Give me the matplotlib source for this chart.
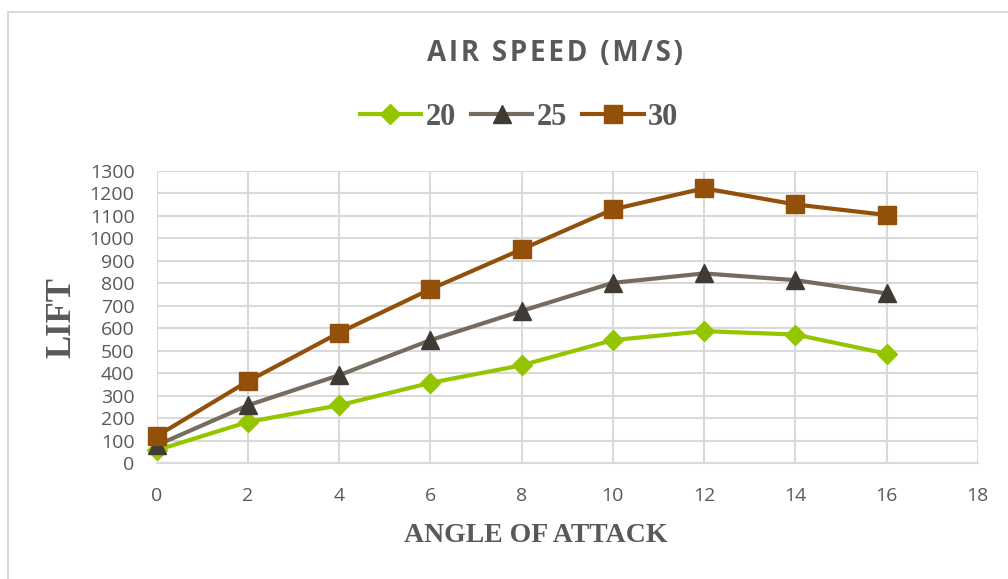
import matplotlib.pyplot as plt
from matplotlib.patches import Rectangle

# angle of attack (deg)
angle = [0, 2, 4, 6, 8, 10, 12, 14, 16]

# lift at each air speed
lift_20 = [57, 183, 257, 357, 435, 547, 587, 572, 487]
lift_25 = [79, 257, 391, 547, 677, 802, 844, 814, 755]
lift_30 = [120, 364, 580, 774, 951, 1129, 1223, 1151, 1104]

speed_labels = ['20', '25', '30']

fig = plt.figure(figsize=(10.08, 5.79), dpi=100)
ax = fig.add_axes([0.1555, 0.2003, 0.8145, 0.5044])

# chart border (only left and top edges are visible in the frame)
fig.patches.append(Rectangle((8 / 1008, -0.1), 1.2, 1 - 12 / 579 + 0.1,
                             transform=fig.transFigure, fill=False,
                             edgecolor='#d9d9d9', linewidth=1.5))

ax.plot(angle, lift_20, color='#94c600', linewidth=3, marker='D',
        markersize=10, markerfacecolor='#94c600', markeredgecolor='#94c600',
        label=speed_labels[0])
ax.plot(angle, lift_25, color='#756b5f', linewidth=3, marker='^',
        markersize=13, markerfacecolor='#3f3a33', markeredgecolor='#3f3a33',
        label=speed_labels[1])
ax.plot(angle, lift_30, color='#93500a', linewidth=3, marker='s',
        markersize=13, markerfacecolor='#93500a', markeredgecolor='#93500a',
        label=speed_labels[2])

ax.set_xlim(0, 18)
ax.set_ylim(0, 1300)
ax.set_xticks(range(0, 19, 2))
ax.set_yticks(range(0, 1301, 100))
ax.grid(True, color='#d9d9d9', linewidth=1.5)
ax.set_axisbelow(True)
for side in ['left', 'right', 'top']:
    ax.spines[side].set_visible(False)
ax.spines['bottom'].set_color('#d9d9d9')
ax.spines['bottom'].set_linewidth(1.5)
ax.tick_params(length=0, colors='#595959', labelsize=14)
ax.tick_params(axis='y', pad=16)
ax.tick_params(axis='x', pad=17)
for lbl in ax.get_xticklabels() + ax.get_yticklabels():
    lbl.set_family(['Open Sans', 'DejaVu Sans'])
for line in ax.get_lines():
    line.set_clip_on(False)

ax.set_xlabel('ANGLE OF ATTACK', family='Liberation Serif', fontweight='bold',
              fontsize=20, color='#595959', va='center')
ax.xaxis.set_label_coords(0.462, -0.247)
ax.set_ylabel('LIFT', family='Liberation Serif', fontweight='bold',
              fontsize=25, color='#595959', va='center')
ax.yaxis.set_label_coords(-0.116, 0.497)

fig.text(0.551, 0.908, '\u200a'.join('AIR SPEED (M/S)'), ha='center', va='center',
         family=['Open Sans', 'DejaVu Sans'], fontweight='bold', fontsize=20,
         color='#595959')

leg = fig.legend(loc='center', bbox_to_anchor=(0.515, 0.797), ncol=3,
                 frameon=False, handlelength=2.0, columnspacing=0.5,
                 handletextpad=0.15,
                 prop={'family': 'Liberation Serif', 'weight': 'bold', 'size': 22})
for t in leg.get_texts():
    t.set_color('#595959')

fig.savefig('out.png', dpi=100)
